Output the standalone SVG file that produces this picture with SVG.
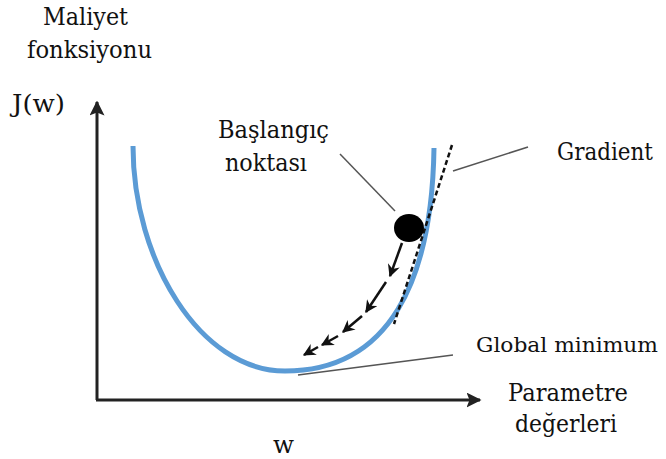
<svg xmlns="http://www.w3.org/2000/svg" width="666" height="459" viewBox="0 0 666 459">
<defs>
<style>
.t{font-family:"DejaVu Serif","Liberation Serif",serif;font-size:24px;fill:#111;}
.ax{stroke:#222;stroke-width:3;fill:none;}
.lead{stroke:#555;stroke-width:1.5;fill:none;}
.step{stroke:#111;stroke-width:2.5;fill:none;marker-end:url(#ah);}
</style>
<marker id="axh" viewBox="0 0 10 10" refX="9" refY="5" markerWidth="5" markerHeight="5" orient="auto" markerUnits="strokeWidth">
<path d="M0,0 L10,5 L0,10 L2,5 Z" fill="#222"/>
</marker>
<marker id="ah" viewBox="0 0 10 10" refX="9" refY="5" markerWidth="5" markerHeight="5" orient="auto" markerUnits="strokeWidth">
<path d="M0,0 L10,5 L0,10 L3,5 Z" fill="#111"/>
</marker>
</defs>
<rect width="666" height="459" fill="#fff"/>
<g id="axes">
<path class="ax" d="M97,400 L97,102" marker-end="url(#axh)"/>
<path class="ax" d="M96,400 L480,400" marker-end="url(#axh)"/>
</g>
<g id="curve">
<path d="M133,146 C133,260 200,371 285,371 C390,371 432,280 434,148" fill="none" stroke="#5b9bd5" stroke-width="5"/>
</g>
<g id="tangent">
<path d="M452,145 L394,324" stroke="#111" stroke-width="2.5" stroke-dasharray="5,3" fill="none"/>
</g>
<g id="start-point">
<ellipse cx="409" cy="228" rx="15" ry="14" fill="#000"/>
</g>
<g id="connectors">
<path class="step" d="M402,243 L390,276"/>
<path class="step" d="M386,282 L366,312"/>
<path class="step" d="M362,316 L343,332"/>
<path class="step" d="M338,336 L322,345"/>
<path class="step" d="M318,347 L304,355"/>
<path class="lead" d="M340,154 L395,211"/>
<path class="lead" d="M453,171 L528,147"/>
<path class="lead" d="M298,375 L453,355"/>
</g>
<g id="labels">
<text class="t" x="43" y="25" textLength="85" lengthAdjust="spacingAndGlyphs">Maliyet</text>
<text class="t" x="27" y="58" textLength="125" lengthAdjust="spacingAndGlyphs">fonksiyonu</text>
<text class="t" x="12" y="112" textLength="53" lengthAdjust="spacingAndGlyphs">J(w)</text>
<text class="t" x="218" y="138" textLength="111" lengthAdjust="spacingAndGlyphs">Başlangıç</text>
<text class="t" x="225" y="171" textLength="82" lengthAdjust="spacingAndGlyphs">noktası</text>
<text class="t" x="557" y="160" textLength="96" lengthAdjust="spacingAndGlyphs">Gradient</text>
<text class="t" x="476" y="352" textLength="182" lengthAdjust="spacingAndGlyphs" style="font-size:20px">Global minimum</text>
<text class="t" x="508" y="401" textLength="120" lengthAdjust="spacingAndGlyphs">Parametre</text>
<text class="t" x="515" y="432" textLength="102" lengthAdjust="spacingAndGlyphs">değerleri</text>
<text class="t" x="273" y="453" textLength="21" lengthAdjust="spacingAndGlyphs">w</text>
</g>
</svg>
